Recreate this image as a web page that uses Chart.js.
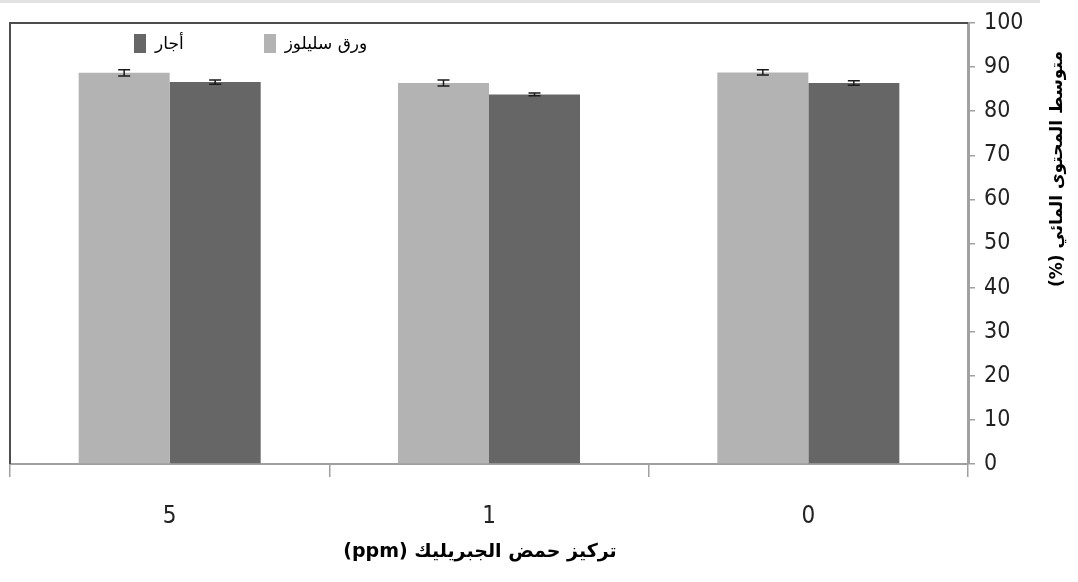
<!DOCTYPE html>
<html>
<head>
<meta charset="utf-8">
<script src="https://cdn.jsdelivr.net/npm/chart.js@4/dist/chart.umd.min.js"></script>
<style>
    html, body { margin: 0; padding: 0; background: #fff; }
    #wrap { position: relative; width: 1078px; height: 582px; }
    #top-strip { position: absolute; left: 0; top: 0; width: 1040px; height: 3px; background: #e2e2e2; }
    #legend { position: absolute; top: 33px; left: 134px; display: flex; gap: 0; font: 17px 'DejaVu Sans', sans-serif; }
    .legend-item { display: flex; align-items: center; }
    .legend-box { width: 12px; height: 19px; margin-right: 9px; }
    .legend-text { direction: rtl; }
</style>
</head>
<body>
<div id="wrap">
    <canvas id="chart" width="1078" height="582"></canvas>
    <div id="top-strip"></div>
    <div id="legend"></div>
</div>
<script>
// --- Data ---
const categories = ['5', '1', '0'];
const seriesNames = ['ورق سليلوز', 'أجار'];
const seriesColors = ['#b3b3b3', '#666666'];
const celluloseValues = [88.7, 86.4, 88.8];
const agarValues = [86.6, 83.8, 86.4];
const celluloseErrors = [0.7, 0.7, 0.6];
const agarErrors = [0.5, 0.3, 0.5];
const yMin = 0;
const yMax = 100;
const yStep = 10;
const xTitle = 'تركيز حمض الجبريليك (ppm)';
const yTitle = 'متوسط المحتوى المائي (%)';

document.addEventListener('DOMContentLoaded', () => {
    const ctx = document.getElementById('chart').getContext('2d');

    // frame (top + left) drawn before the bars
    const framePlugin = {
        id: 'frame',
        beforeDatasetsDraw(chart) {
            const { ctx, chartArea: a } = chart;
            ctx.save();
            ctx.strokeStyle = '#4d4d4d';
            ctx.lineWidth = 2;
            ctx.beginPath();
            ctx.moveTo(a.left, a.bottom);
            ctx.lineTo(a.left, a.top);
            ctx.lineTo(a.right, a.top);
            ctx.stroke();
            ctx.restore();
        }
    };

    // error bars from the dataset's errors array
    const errorBarPlugin = {
        id: 'errorBars',
        afterDatasetsDraw(chart) {
            const { ctx } = chart;
            const y = chart.scales.y;
            chart.data.datasets.forEach((ds, i) => {
                const meta = chart.getDatasetMeta(i);
                meta.data.forEach((bar, j) => {
                    const v = ds.data[j];
                    const e = ds.errors[j];
                    const top = y.getPixelForValue(v + e);
                    const bot = y.getPixelForValue(v - e);
                    ctx.save();
                    ctx.strokeStyle = '#1a1a1a';
                    ctx.lineWidth = 1.5;
                    ctx.beginPath();
                    ctx.moveTo(bar.x, top);
                    ctx.lineTo(bar.x, bot);
                    ctx.moveTo(bar.x - 6, top);
                    ctx.lineTo(bar.x + 6, top);
                    ctx.moveTo(bar.x - 6, bot);
                    ctx.lineTo(bar.x + 6, bot);
                    ctx.stroke();
                    ctx.restore();
                });
            });
        }
    };

    // axis titles (right-to-left text)
    const titlesPlugin = {
        id: 'titles',
        afterDraw(chart) {
            const { ctx } = chart;
            ctx.save();
            ctx.direction = 'rtl';
            ctx.fillStyle = '#000';
            ctx.textAlign = 'center';
            ctx.textBaseline = 'middle';
            ctx.font = "bold 19px 'DejaVu Sans', sans-serif";
            ctx.fillText(xTitle, 480, 552);

            ctx.font = "bold 17px 'DejaVu Sans', sans-serif";
            ctx.translate(1058, 169);
            ctx.rotate(-Math.PI / 2);
            ctx.fillText(yTitle, 0, 0);
            ctx.restore();
        }
    };

    new Chart(ctx, {
        type: 'bar',
        data: {
            labels: categories,
            datasets: [{
                label: seriesNames[0],
                data: celluloseValues,
                errors: celluloseErrors,
                backgroundColor: seriesColors[0]
            },
            {
                label: seriesNames[1],
                data: agarValues,
                errors: agarErrors,
                backgroundColor: seriesColors[1]
            }]
        },
        options: {
            responsive: false,
            animation: false,
            layout: { padding: { left: 10, top: 23, right: 0, bottom: 0 } },
            datasets: {
                bar: { categoryPercentage: 0.57, barPercentage: 1.0 }
            },
            scales: {
                x: {
                    afterFit: (s) => { s.height = 118; },
                    grid: {
                        offset: true,
                        drawOnChartArea: false,
                        tickLength: 13,
                        color: '#a0a0a0',
                        lineWidth: 1.5
                    },
                    border: { color: '#a0a0a0', width: 2 },
                    ticks: {
                        color: '#222',
                        padding: 25,
                        font: { family: "'Liberation Sans Narrow', 'DejaVu Sans Condensed', sans-serif", size: 24 }
                    }
                },
                y: {
                    position: 'right',
                    min: yMin,
                    max: yMax,
                    afterFit: (s) => { s.width = 110; },
                    grid: {
                        drawOnChartArea: false,
                        tickLength: 7,
                        color: '#a0a0a0',
                        lineWidth: 1.5
                    },
                    border: { color: '#a0a0a0', width: 3 },
                    ticks: {
                        stepSize: yStep,
                        color: '#222',
                        padding: 9,
                        font: { family: "'Liberation Sans Narrow', 'DejaVu Sans Condensed', sans-serif", size: 23 }
                    }
                }
            },
            plugins: {
                legend: { display: false },
                tooltip: { enabled: false }
            }
        },
        plugins: [framePlugin, errorBarPlugin, titlesPlugin]
    });

    // --- HTML legend (agar first, as in the original) ---
    const legend = document.getElementById('legend');
    const order = [1, 0];
    const gaps = [0, 80];
    order.forEach((idx, k) => {
        const item = document.createElement('div');
        item.className = 'legend-item';
        item.style.marginLeft = gaps[k] + 'px';
        item.innerHTML = `<span class="legend-box" style="background:${seriesColors[idx]}"></span><span class="legend-text">${seriesNames[idx]}</span>`;
        legend.appendChild(item);
    });
});
</script>
</body>
</html>
